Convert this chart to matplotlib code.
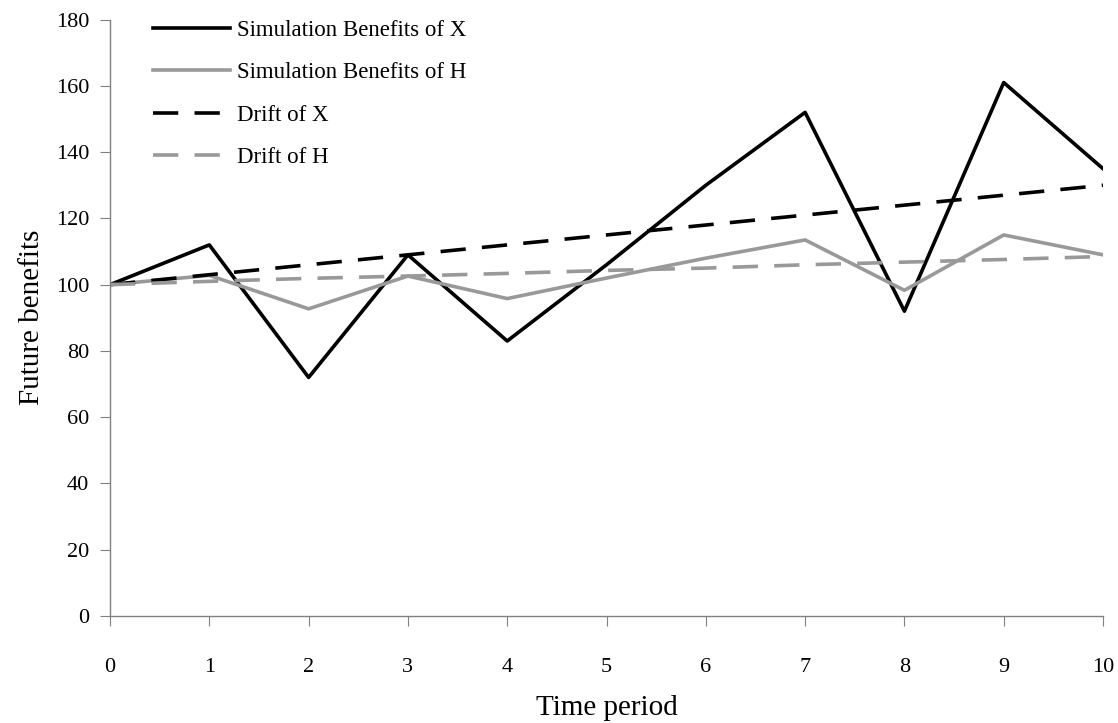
import matplotlib.pyplot as plt

# Data
periods = [0, 1, 2, 3, 4, 5, 6, 7, 8, 9, 10]
sim_x = [100, 112, 72, 109, 83, 106, 130, 152, 92, 161, 135]
sim_h = [100, 102.8, 92.7, 102.6, 95.8, 102, 108, 113.5, 98.3, 115, 109]
drift_x = [100, 103, 106, 109, 112, 115, 118, 121, 124, 127, 130]
drift_h = [100, 101, 101.9, 102.6, 103.4, 104.3, 105, 106, 106.8, 107.6, 108.5]
yticks = [0, 20, 40, 60, 80, 100, 120, 140, 160, 180]

plt.rcParams['font.family'] = ['Liberation Serif', 'DejaVu Serif']

fig = plt.figure(figsize=(11.18, 7.23), dpi=100)
ax = fig.add_axes([0.0984, 0.148, 0.8882, 0.8249])

gray = '#999999'
lw = 2.6
ax.plot(periods, sim_x, color='black', lw=lw, label='Simulation Benefits of X')
ax.plot(periods, sim_h, color=gray, lw=lw, label='Simulation Benefits of H')
ax.plot(periods, drift_x, color='black', lw=lw, dashes=(7, 4.5), label='Drift of X')
ax.plot(periods, drift_h, color=gray, lw=lw, dashes=(7, 4.5), label='Drift of H')

ax.set_xlim(0, 10)
ax.set_ylim(0, 180)
ax.set_xticks(periods)
ax.set_yticks(yticks)

for side in ['top', 'right']:
    ax.spines[side].set_visible(False)
for side in ['left', 'bottom']:
    ax.spines[side].set_color('#808080')
    ax.spines[side].set_linewidth(1.0)

ax.tick_params(axis='x', direction='out', length=7, color='#808080', pad=23, labelsize=16)
ax.tick_params(axis='y', direction='out', length=7, color='#808080', pad=8, labelsize=16)

ax.set_xlabel('Time period', fontsize=21, labelpad=13)
ax.set_ylabel('Future benefits', fontsize=21, labelpad=8)

ax.legend(loc='upper left', bbox_to_anchor=(0.137, 0.972), bbox_transform=fig.transFigure,
          frameon=False, fontsize=16.5, handlelength=3.36, handletextpad=0.3,
          labelspacing=0.92, borderpad=0, borderaxespad=0)

fig.savefig('out.png', dpi=100)
